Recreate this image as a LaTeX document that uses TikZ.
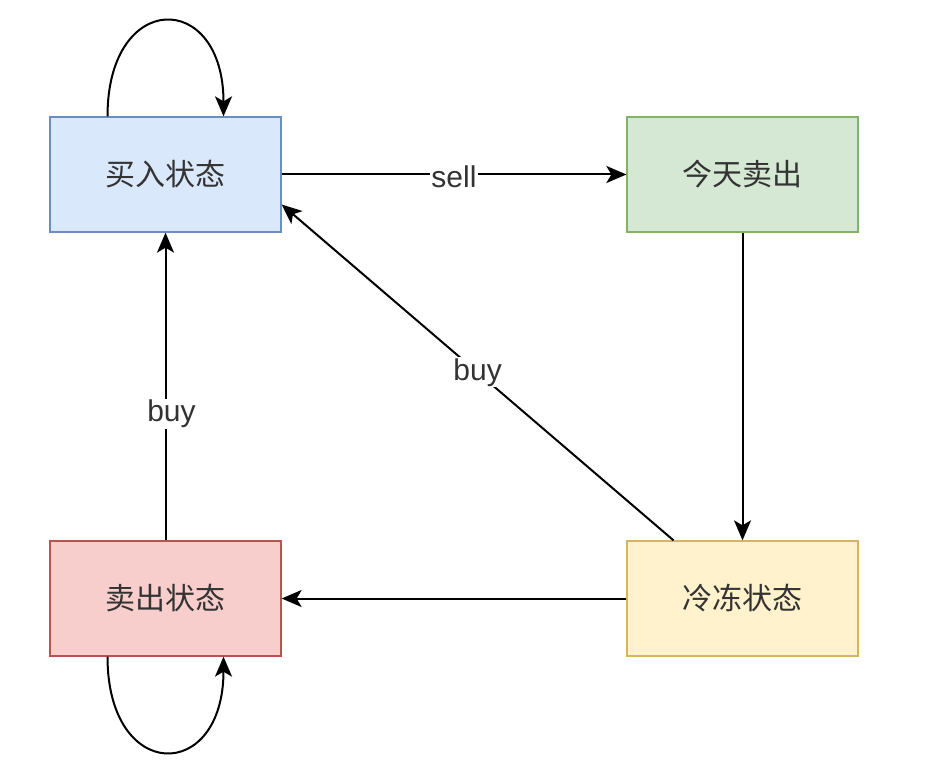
\documentclass[tikz,border=0pt]{standalone}
\usepackage{fontspec}
\setmainfont{Liberation Sans}
\newfontfamily\cjk{Noto Sans CJK SC}
\usepackage{xcolor}
\usetikzlibrary{arrows.meta}
\definecolor{bluefill}{HTML}{DAE8FC}\definecolor{blueline}{HTML}{6C8EBF}
\definecolor{greenfill}{HTML}{D5E8D4}\definecolor{greenline}{HTML}{82B366}
\definecolor{redfill}{HTML}{F8CECC}\definecolor{redline}{HTML}{B85450}
\definecolor{yellowfill}{HTML}{FFF2CC}\definecolor{yellowline}{HTML}{D6B656}
\definecolor{txt}{HTML}{333333}

\begin{document}
\begin{tikzpicture}[x=1pt,y=-1pt,
state/.style={rectangle,minimum width=231pt,minimum height=115pt,line width=1.3pt,
  text=txt,font=\cjk\fontsize{30}{36}\selectfont},
flow/.style={line width=2pt,arrows={-Stealth[length=20pt,width=17pt,inset=5pt]}},
lab/.style={fill=white,inner sep=1pt,text=txt,font=\fontsize{30}{36}\selectfont}]
\useasboundingbox(0,0)rectangle(952,778);
\node[state,fill=bluefill,draw=blueline](buying)at(165.5,174.5){买入状态};
\node[state,fill=greenfill,draw=greenline](soldtoday)at(742.5,174.5){今天卖出};
\node[state,fill=redfill,draw=redline](selling)at(165.5,598.5){卖出状态};
\node[state,fill=yellowfill,draw=yellowline](frozen)at(742.5,598.5){冷冻状态};
% self loops
\draw[flow]([xshift=-58pt]buying.north)to[out=90,in=90,looseness=2.8]([xshift=58pt]buying.north);
\draw[flow]([xshift=-58pt]selling.south)to[out=-90,in=-90,looseness=2.8]([xshift=58pt]selling.south);
% transitions
\draw[flow](buying)--node[lab,yshift=-2pt]{sell}(soldtoday);
\draw[flow](soldtoday)--(frozen);
\draw[flow](frozen)--(selling);
\draw[flow](selling)--node[lab,pos=0.41,xshift=6pt]{buy}(buying);
\draw[flow]([xshift=-69pt]frozen.north)--node[lab]{buy}([yshift=-30pt]buying.east);
\end{tikzpicture}
\end{document}
